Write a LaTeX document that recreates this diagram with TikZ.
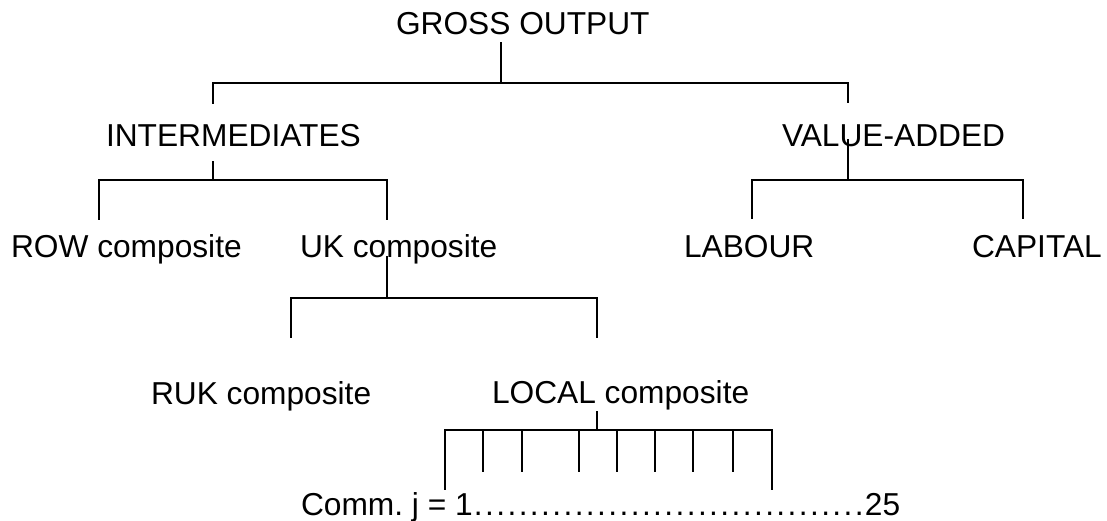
\documentclass[tikz,border=0pt]{standalone}
\usepackage{fontspec}
\setmainfont{Liberation Sans}
\begin{document}
\begin{tikzpicture}[x=1pt,y=-1pt,
  lbl/.style={anchor=base west,inner sep=0pt,outer sep=0pt,font=\fontsize{31.7}{38}\selectfont},
  conn/.style={line width=1.6pt,line cap=rect,line join=miter}]
\useasboundingbox (0,0) rectangle (1107,521);
% labels
\node[lbl] (go)  at (396,35)  {GROSS OUTPUT};
\node[lbl] (int) at (106,147) {INTERMEDIATES};
\node[lbl] (va)  at (782,147) {VALUE-ADDED};
\node[lbl] (row) at (11,257)  {ROW composite};
\node[lbl] (uk)  at (300,257) {UK composite};
\node[lbl] (lab) at (684,257) {LABOUR};
\node[lbl] (cap) at (972,257) {CAPITAL};
\node[lbl] (ruk) at (151,404) {RUK composite};
\node[lbl] (loc) at (492,403) {LOCAL composite};
\node[lbl] (comm) at (301,515) {Comm.\ j = 1\makebox[392pt]{\xleaders\hbox to 11.2pt{\hss.\hss}\hfill}25};
% connector points
\coordinate (go-s) at (501,43);   \coordinate (go-j) at (501,83);
\coordinate (go-l) at (213,83);   \coordinate (go-r) at (848,83);
\coordinate (int-n) at (213,103); \coordinate (va-n) at (848,102);
\coordinate (int-s) at (213,162); \coordinate (int-j) at (213,180);
\coordinate (int-l) at (99,180);  \coordinate (int-r) at (387,180);
\coordinate (row-n) at (99,219);  \coordinate (uk-n) at (387,219);
\coordinate (va-s) at (848,140);  \coordinate (va-j) at (848,180);
\coordinate (va-l) at (752,180);  \coordinate (va-r) at (1023,180);
\coordinate (lab-n) at (752,218); \coordinate (cap-n) at (1023,218);
\coordinate (uk-s) at (387,257);  \coordinate (uk-j) at (387,298);
\coordinate (uk-l) at (291,298);  \coordinate (uk-r) at (597,298);
\coordinate (ruk-n) at (291,337); \coordinate (loc-n) at (597,337);
\coordinate (loc-s) at (597,412); \coordinate (loc-j) at (597,430);
\coordinate (loc-l) at (445,430); \coordinate (loc-r) at (772,430);
\coordinate (c-first) at (445,489); \coordinate (c-last) at (772,489);
% connectors
\draw[conn] (go-s) -- (go-j);
\draw[conn] (int-n) -- (go-l) -- (go-r) -- (va-n);
\draw[conn] (int-s) -- (int-j);
\draw[conn] (row-n) -- (int-l) -- (int-r) -- (uk-n);
\draw[conn] (va-s) -- (va-j);
\draw[conn] (lab-n) -- (va-l) -- (va-r) -- (cap-n);
\draw[conn] (uk-s) -- (uk-j);
\draw[conn] (ruk-n) -- (uk-l) -- (uk-r) -- (loc-n);
\draw[conn] (loc-s) -- (loc-j);
\draw[conn] (c-first) -- (loc-l) -- (loc-r) -- (c-last);
\foreach \i/\x in {1/483,2/522,3/579,4/617,5/655,6/693,7/733}{
  \coordinate (t\i-top) at (\x,430);
  \coordinate (t\i-bot) at (\x,471);
  \draw[conn] (t\i-top) -- (t\i-bot);
}
\end{tikzpicture}
\end{document}
